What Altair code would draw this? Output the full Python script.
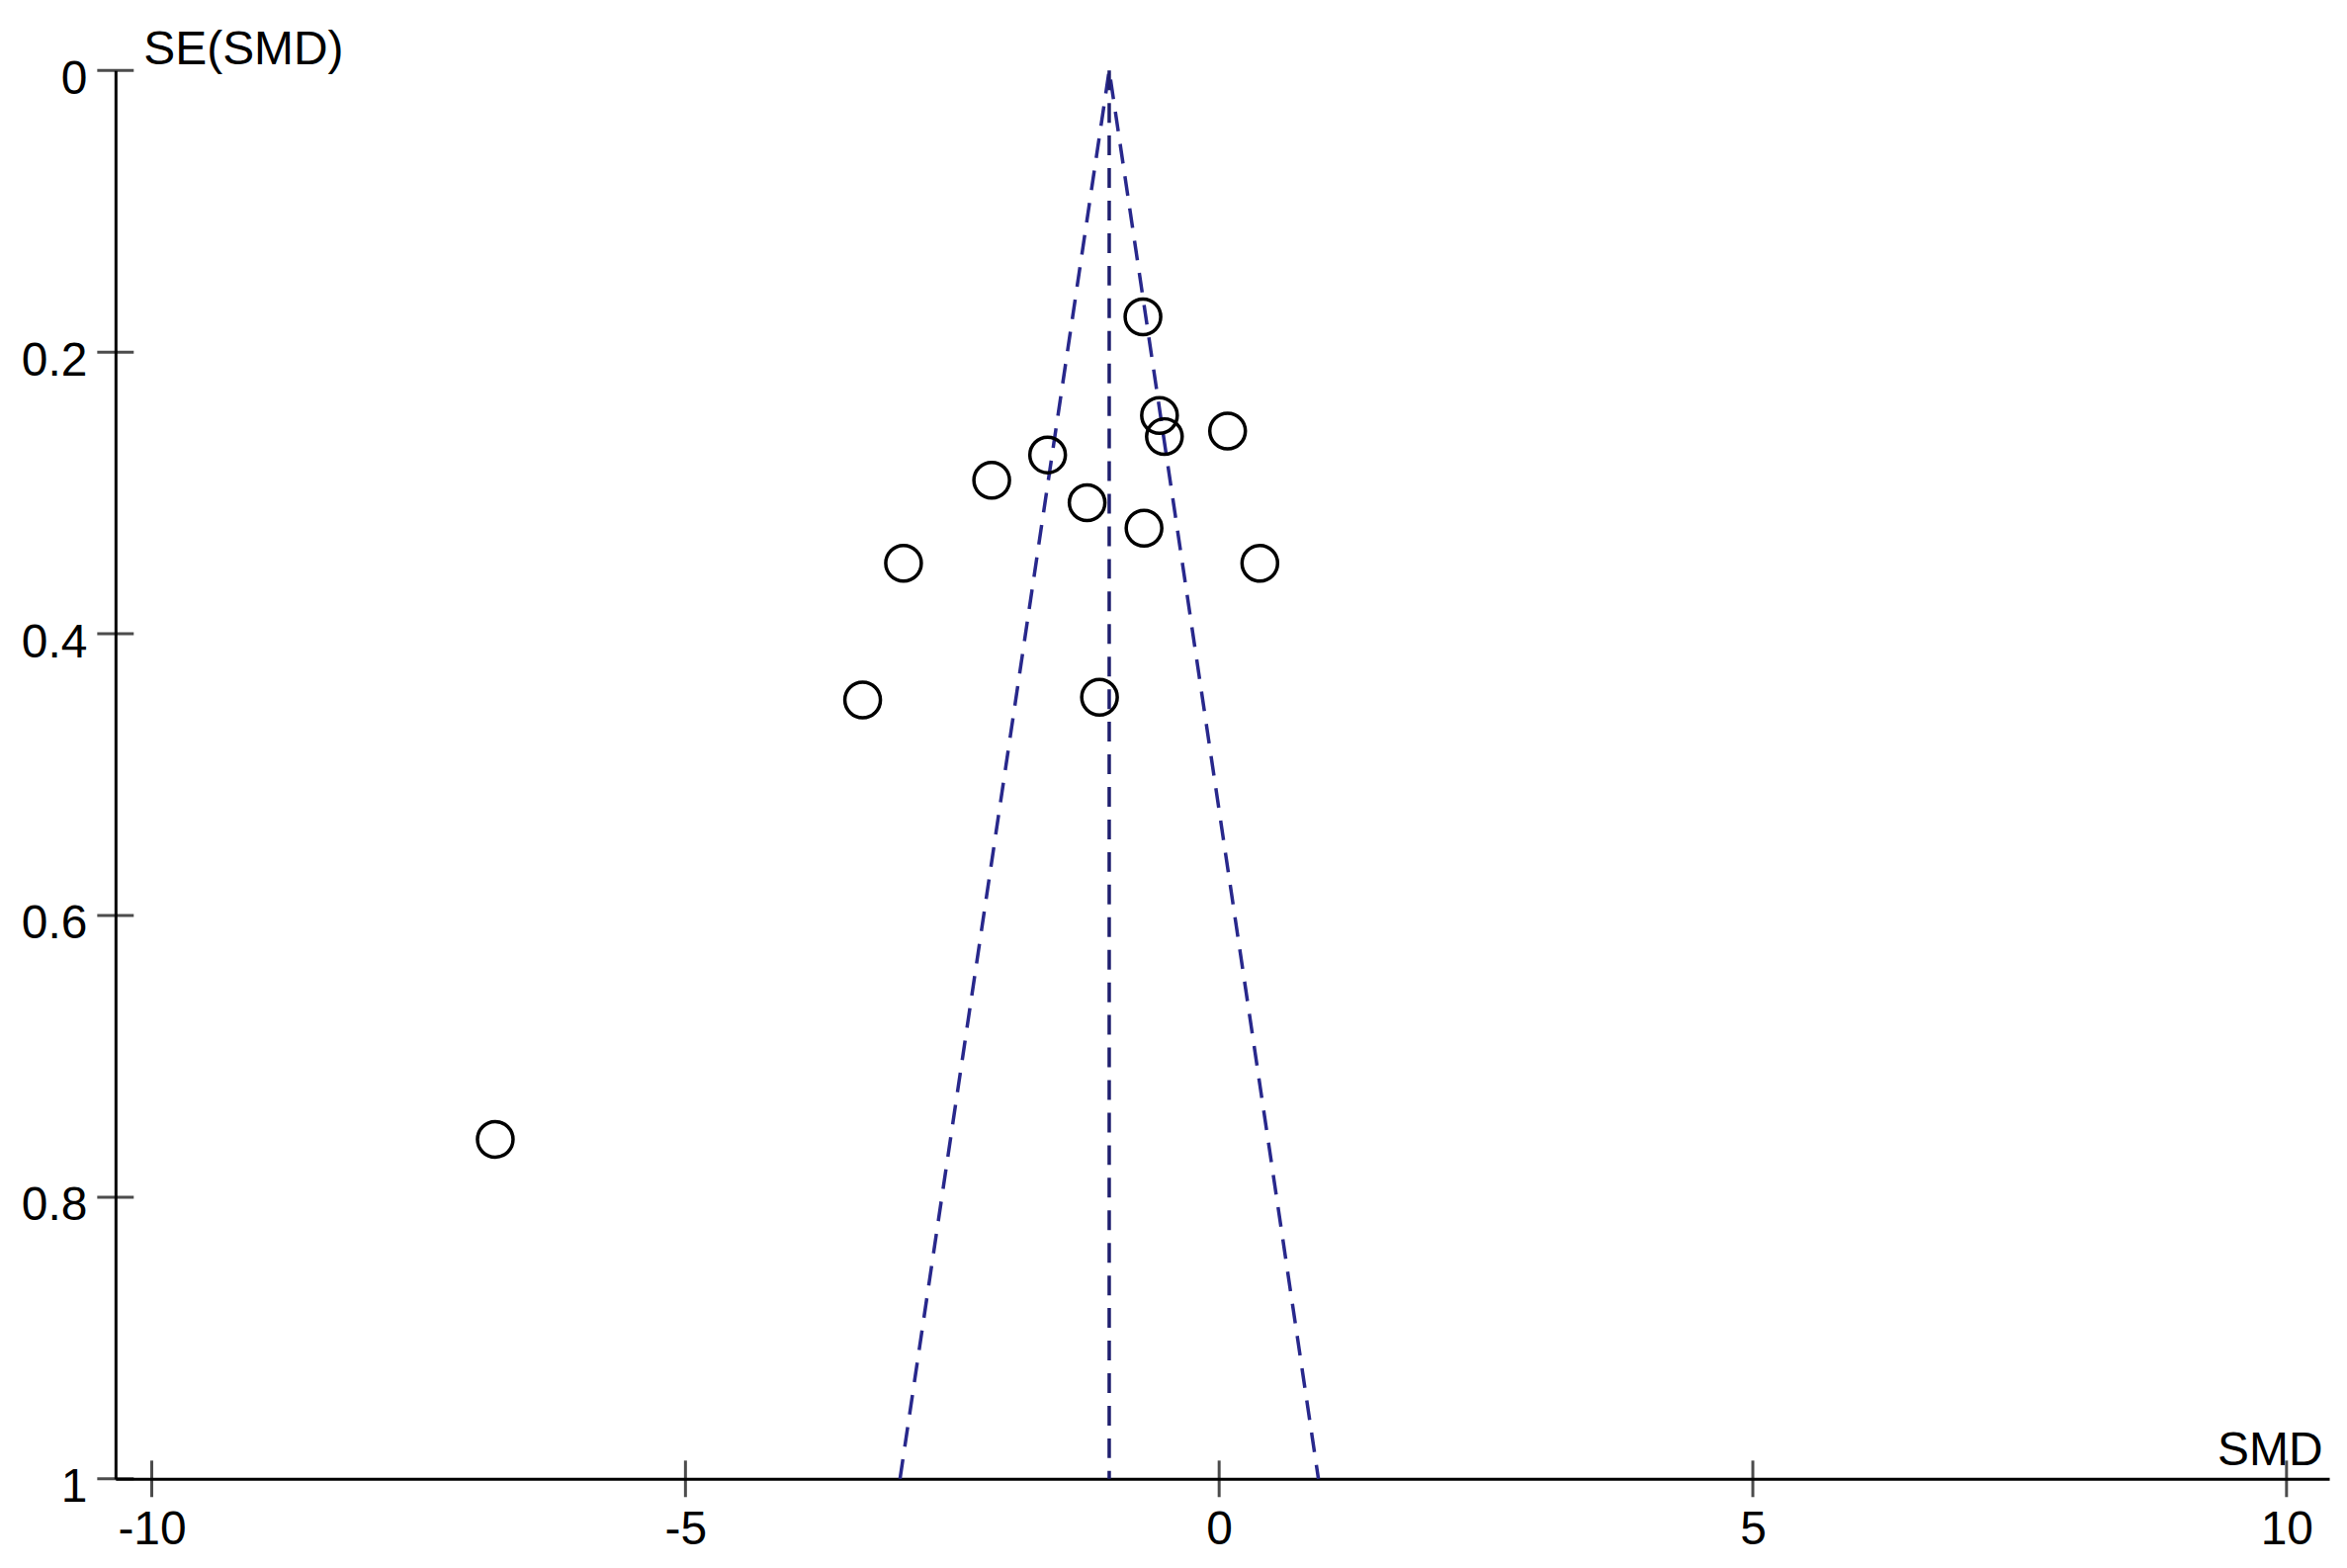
import altair as alt
import pandas as pd

# Study estimates
smd = [-0.714, -0.559, -0.513, 0.079, -1.607, -2.131, -1.237, -0.704, -2.957, 0.381, -3.340, -1.121, -6.782]
se = [0.175, 0.245, 0.260, 0.256, 0.273, 0.291, 0.307, 0.325, 0.350, 0.350, 0.447, 0.445, 0.759]

pooled = -1.03
se_range = [0.0, 1.0]
x_ticks = [-10, -5, 0, 5, 10]
y_ticks = [0, 0.2, 0.4, 0.6, 0.8, 1]
x_domain = [-10.34, 10.40]
y_domain = [0, 1]

FONT = "Liberation Sans"
FS = 48
LINE_COLOR = "#28288c"

points_df = pd.DataFrame({"SMD": smd, "SE": se})

funnel_df = pd.DataFrame({
    "SMD": [pooled - 1.96 * se_range[1], pooled - 1.96 * se_range[0], pooled + 1.96 * se_range[1]],
    "SE": [se_range[1], se_range[0], se_range[1]],
    "order": [0, 1, 2],
})
center_df = pd.DataFrame({"SMD": [pooled, pooled], "SE": se_range})
xt_df = pd.DataFrame({"v": x_ticks})
yt_df = pd.DataFrame({"v": y_ticks})

xscale = alt.Scale(domain=x_domain, nice=False, zero=False)
yscale = alt.Scale(domain=y_domain, nice=False, zero=False, reverse=True)

xaxis = alt.Axis(
    values=x_ticks, grid=False, ticks=False, tickSize=0,
    domainColor="black", domainWidth=3,
    labelFont=FONT, labelFontSize=FS, labelColor="black",
    labelBaseline="alphabetic", labelPadding=66, labelFlush=False, labelOverlap=False,
    labelExpr="datum.value + ''",
    title="SMD", titleFont=FONT, titleFontSize=FS, titleFontWeight="normal", titleColor="black",
    titleAlign="right", titleBaseline="alphabetic", titleAnchor="end",
    titleX=2236, titleY=-14,
)
yaxis = alt.Axis(
    values=y_ticks, grid=False, ticks=False, tickSize=0,
    domainColor="black", domainWidth=3,
    labelFont=FONT, labelFontSize=FS, labelColor="black",
    labelAlign="right", labelBaseline="alphabetic", labelOffset=23, labelPadding=29,
    labelOverlap=False, labelExpr="datum.value + ''",
    title="SE(SMD)", titleFont=FONT, titleFontSize=FS, titleFontWeight="normal", titleColor="black",
    titleAngle=0, titleAlign="left", titleBaseline="alphabetic",
    titleX=28, titleY=-7,
)

funnel = alt.Chart(funnel_df).mark_line(
    color=LINE_COLOR, strokeWidth=3.5, strokeDash=[20, 13]
).encode(
    x=alt.X("SMD:Q", scale=xscale, axis=xaxis),
    y=alt.Y("SE:Q", scale=yscale, axis=yaxis),
    order="order:Q",
)

center = alt.Chart(center_df).mark_line(
    color="#1e1e6e", strokeWidth=3.5, strokeDash=[20, 13]
).encode(
    x=alt.X("SMD:Q", scale=xscale),
    y=alt.Y("SE:Q", scale=yscale),
)

pts = alt.Chart(points_df).mark_point(
    shape="circle", filled=False, size=1300, strokeWidth=3.5, color="black", opacity=1
).encode(
    x=alt.X("SMD:Q", scale=xscale),
    y=alt.Y("SE:Q", scale=yscale),
)

xticks = alt.Chart(xt_df).mark_tick(
    orient="vertical", size=37, thickness=3, color="black"
).encode(
    x=alt.X("v:Q", scale=xscale),
    y=alt.datum(y_domain[1]),
)

yticks = alt.Chart(yt_df).mark_tick(
    orient="horizontal", size=37, thickness=3, color="black"
).encode(
    x=alt.datum(x_domain[0]),
    y=alt.Y("v:Q", scale=yscale),
)

chart = alt.layer(funnel, center, pts, xticks, yticks).properties(
    width=2243,
    height=1427,
    autosize=alt.AutoSizeParams(type="none"),
    padding={"left": 109, "top": 62, "right": 10, "bottom": 86},
    background="white",
).configure_view(stroke="transparent")

chart.save("out.html", embed_options={"renderer": "svg", "actions": False})
